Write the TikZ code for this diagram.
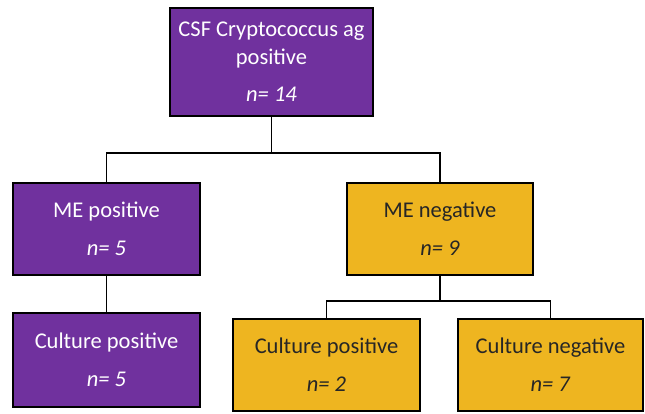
\documentclass[tikz,border=0pt]{standalone}
\usepackage{fontspec}
\setmainfont{Carlito}
\usepackage{xcolor}
\definecolor{orchid}{RGB}{112, 49, 158}
\definecolor{amber}{RGB}{238, 181, 32}
\usepackage{tikz}

\tikzset{
    flowbox/.style = {draw = black, line width = 2.6pt, align = center, inner sep = 0pt,
                      font = \fontsize{22.5}{28}\selectfont},
    purplebox/.style = {flowbox, fill = orchid, text = white},
    goldbox/.style = {flowbox, fill = amber, text = black!85},
    branch/.style = {draw = black, line width = 1.8pt}
}

\begin{document}
\begin{tikzpicture}[x = 1pt, y = -1pt]
                        \useasboundingbox (0,0) rectangle (645,414);

                        \node[purplebox, minimum width = 203pt, minimum height = 108pt] (csf) at (271.5,62) {CSF Cryptococcus ag\\ positive\\[9pt] \textit{n= 14}};

                        \node[purplebox, minimum width = 187pt, minimum height = 92pt] (mepos) at (106.5,229) {ME positive\\[10pt] \textit{n= 5}};
                        \node[goldbox, minimum width = 186pt, minimum height = 92pt] (meneg) at (440,229) {ME negative\\[10pt] \textit{n= 9}};

                        \node[purplebox, minimum width = 187pt, minimum height = 94pt] (culpos) at (106.5,360) {Culture positive\\[10pt] \textit{n= 5}};
                        \node[goldbox, minimum width = 187pt, minimum height = 92pt] (culposneg) at (326.5,365) {Culture positive\\[10pt] \textit{n= 2}};
                        \node[goldbox, minimum width = 185pt, minimum height = 92pt] (culneg) at (550.5,365) {Culture negative\\[10pt] \textit{n= 7}};

                        \coordinate (split) at (csf.south |- 0,153);
                        \coordinate (splitneg) at (meneg.south |- 0,301);

                        \draw[branch] (csf.south) -- (split) -| (mepos.north);
                        \draw[branch] (split) -| (meneg.north);
                        \draw[branch] (mepos.south) -- (culpos.north);
                        \draw[branch] (meneg.south) -- (splitneg) -| (culposneg.north);
                        \draw[branch] (splitneg) -| (culneg.north);
                    \end{tikzpicture}
\end{document}
